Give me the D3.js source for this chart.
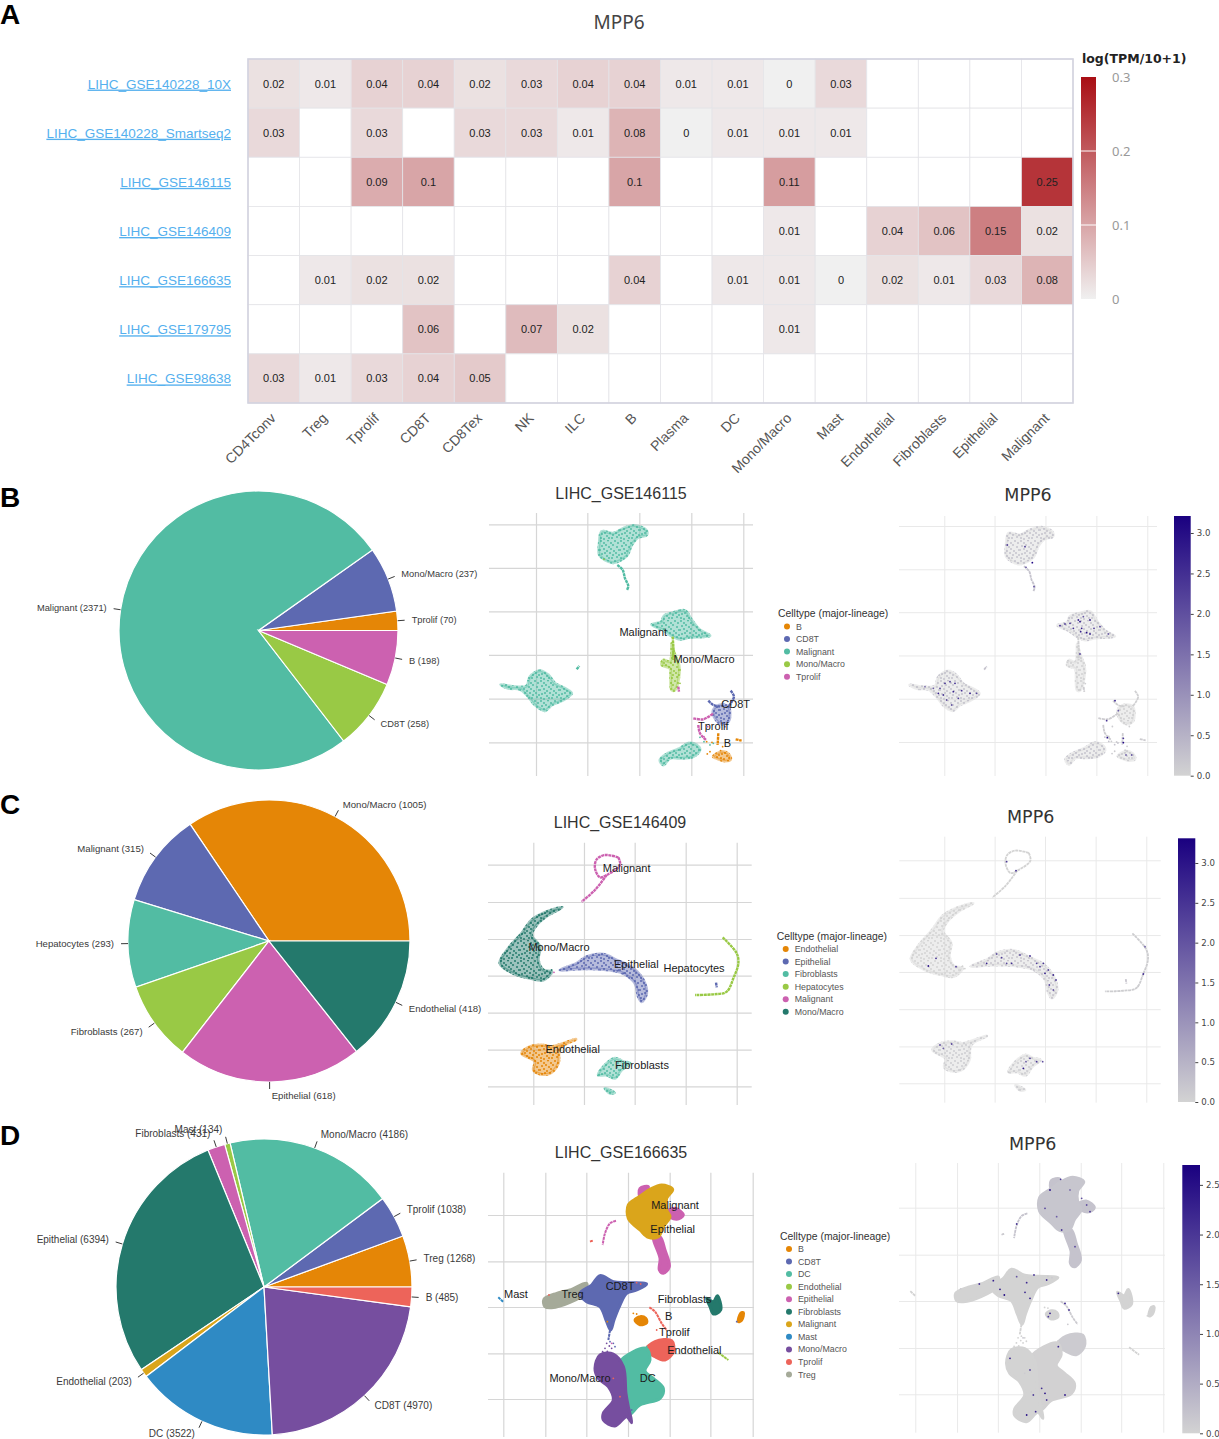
<!DOCTYPE html>
<html>
<head>
<meta charset="utf-8">
<style>
  body { margin: 0; background: #fff; }
  text { font-family: "Liberation Sans", Arial, sans-serif; }
</style>
</head>
<body>
<script src="https://d3js.org/d3.v7.min.js"></script>
<div id="fig"></div>
<script>
// ---------- panel A: heatmap ----------
var heatRows = ["LIHC_GSE140228_10X", "LIHC_GSE140228_Smartseq2", "LIHC_GSE146115", "LIHC_GSE146409", "LIHC_GSE166635", "LIHC_GSE179795", "LIHC_GSE98638"];
var heatCols = ["CD4Tconv", "Treg", "Tprolif", "CD8T", "CD8Tex", "NK", "ILC", "B", "Plasma", "DC", "Mono/Macro", "Mast", "Endothelial", "Fibroblasts", "Epithelial", "Malignant"];
var n = null;
var heatValues = [
  [0.02, 0.01, 0.04, 0.04, 0.02, 0.03, 0.04, 0.04, 0.01, 0.01, 0, 0.03, n, n, n, n],
  [0.03, n, 0.03, n, 0.03, 0.03, 0.01, 0.08, 0, 0.01, 0.01, 0.01, n, n, n, n],
  [n, n, 0.09, 0.1, n, n, n, 0.1, n, n, 0.11, n, n, n, n, 0.25],
  [n, n, n, n, n, n, n, n, n, n, 0.01, n, 0.04, 0.06, 0.15, 0.02],
  [n, 0.01, 0.02, 0.02, n, n, n, 0.04, n, 0.01, 0.01, 0, 0.02, 0.01, 0.03, 0.08],
  [n, n, n, 0.06, n, 0.07, 0.02, n, n, n, 0.01, n, n, n, n, n],
  [0.03, 0.01, 0.03, 0.04, 0.05, n, n, n, n, n, n, n, n, n, n, n]
];
var heatTicks = [0, 0.1, 0.2, 0.3];

// ---------- pies (listed anticlockwise from 3 o'clock) ----------
var pieNamesB = ["Tprolif", "Mono/Macro", "Malignant", "CD8T", "B"];
var pieCountsB = [70, 237, 2371, 258, 198];
var pieNamesC = ["Mono/Macro", "Malignant", "Hepatocytes", "Fibroblasts", "Epithelial", "Endothelial"];
var pieCountsC = [1005, 315, 293, 267, 618, 418];
var pieNamesD = ["Treg", "Tprolif", "Mono/Macro", "Mast", "Fibroblasts", "Epithelial", "Endothelial", "DC", "CD8T", "B"];
var pieCountsD = [1268, 1038, 4186, 134, 431, 6394, 203, 3522, 4970, 485];

// ---------- embeddings: outlines, in unlabelled embedding units ----------
var legendB = ["B", "CD8T", "Malignant", "Mono/Macro", "Tprolif"];
var gridXB = [168, 322, 478, 634, 790];
var gridYB = [133, 264, 394, 525, 656, 787];
var blobsB = [
  ["Malignant", [[365,155],[400,160],[430,145],[465,137],[498,150],[500,165],[475,172],[455,195],[440,228],[400,248],[375,240],[358,225],[358,190]]],
  ["Malignant", [[552,408],[580,398],[615,392],[635,420],[660,450],[690,467],[670,470],[630,472],[600,478],[575,468],[550,450],[515,434],[545,425]]],
  ["Malignant", [[62,614],[100,620],[140,618],[150,590],[180,572],[205,585],[225,610],[255,625],[275,640],[250,660],[215,675],[195,692],[165,675],[145,650],[120,628],[85,625]]],
  ["Malignant", [[540,840],[560,822],[600,805],[625,790],[650,795],[660,810],[640,830],[600,835],[570,835],[550,855]]],
  ["Mono/Macro", [[575,490],[583,520],[597,555],[598,580],[585,630],[575,630],[572,590],[570,565],[545,555],[550,540],[570,545],[575,520]]],
  ["CD8T", [[700,690],[720,675],[745,680],[750,700],[745,725],[725,732],[705,715]]],
  ["B", [[700,830],[725,815],[745,822],[752,838],[735,843],[712,836]]]
];
var strandsB = [
  ["Malignant", [[412,255],[428,270],[435,295],[445,318],[441,330]]],
  ["Malignant", [[290,568],[298,558]]],
  ["Mono/Macro", [[578,470],[580,500],[580,540]]],
  ["CD8T", [[685,662],[700,675],[720,680]]],
  ["CD8T", [[752,632],[762,650],[745,680]]],
  ["Tprolif", [[640,715],[670,718],[700,700]]],
  ["Tprolif", [[655,735],[660,760],[678,780]]],
  ["Tprolif", [[595,620],[597,635]]],
  ["B", [[715,760],[713,795]]],
  ["B", [[767,778],[785,782]]]
];
var straysB = [["Malignant",660,772],["Malignant",672,785],["Malignant",690,795],["Malignant",700,790],["B",680,785],["B",696,787],["B",690,815],["B",682,822],["B",728,800],["B",722,812],["Tprolif",683,740],["Tprolif",672,770],["CD8T",735,740],["Mono/Macro",600,610],["Mono/Macro",545,545],["Mono/Macro",372,238]];
var labelsB = [["Malignant",490,455],["Mono/Macro",672,538],["CD8T",767,671],["Tprolif",700,738],["B",742,790]];

var legendC = ["Endothelial", "Epithelial", "Fibroblasts", "Hepatocytes", "Malignant", "Mono/Macro"];
var gridXC = [160, 312, 464, 617, 770];
var gridYC = [194, 306, 417, 527, 638, 749, 859];
var blobsC = [
  ["Mono/Macro", [[247,322],[205,345],[170,375],[155,405],[180,440],[175,480],[190,510],[215,515],[190,540],[150,535],[100,520],[60,490],[85,445],[125,400],[155,360],[200,335]]],
  ["Epithelial", [[240,510],[290,490],[320,470],[370,463],[410,480],[460,505],[490,540],[500,580],[485,605],[475,590],[465,550],[430,520],[400,512],[350,507],[290,507]]],
  ["Endothelial", [[125,760],[150,740],[185,735],[215,740],[288,718],[240,745],[235,790],[210,820],[180,822],[160,810],[165,785]]],
  ["Fibroblasts", [[355,825],[380,790],[405,775],[430,785],[450,790],[425,810],[405,835],[380,825]]],
  ["Fibroblasts", [[375,865],[385,868],[403,878],[390,880]]]
];
var strandsC = [
  ["Malignant", [[415,172],[375,165],[350,178],[345,205],[360,232],[380,225],[420,195],[415,172]]],
  ["Malignant", [[380,225],[345,270],[305,305]]],
  ["Hepatocytes", [[728,412],[770,460],[775,490],[760,535],[740,575],[700,583],[645,585]]],
  ["Epithelial", [[708,548],[710,562]]]
];
var straysC = [["Malignant",222,517],["Epithelial",430,520],["Epithelial",412,512],["Fibroblasts",354,826],["Mono/Macro",215,510],["Hepatocytes",745,570]];
var labelsC = [["Malignant",440,204],["Mono/Macro",237,440],["Epithelial",469,491],["Hepatocytes",642,503],["Endothelial",278,746],["Fibroblasts",486,795]];

var legendD = ["B", "CD8T", "DC", "Endothelial", "Epithelial", "Fibroblasts", "Malignant", "Mast", "Mono/Macro", "Tprolif", "Treg"];
var gridXD = [70, 196, 319, 444, 569, 691, 818];
var gridYD = [255, 394, 531, 670, 807];
var blobsD = [
  ["Epithelial", [[480,175],[505,170],[495,190],[480,200]]],
  ["Epithelial", [[555,250],[585,235],[610,255],[590,268]]],
  ["Epithelial", [[520,320],[540,320],[555,360],[568,410],[550,430],[538,420],[540,385]]],
  ["Malignant", [[445,225],[470,205],[485,195],[510,178],[545,165],[578,178],[560,205],[560,240],[570,260],[550,290],[535,320],[505,322],[480,300],[445,265]]],
  ["Treg", [[192,508],[230,490],[270,480],[320,460],[312,492],[270,517],[215,533],[195,530]]],
  ["CD8T", [[300,490],[335,465],[360,437],[400,455],[440,458],[500,462],[470,480],[440,490],[418,530],[402,570],[392,600],[378,570],[360,530],[320,515]]],
  ["B", [[465,570],[480,560],[497,565],[500,578],[480,584]]],
  ["B", [[775,575],[782,550],[790,548],[785,570]]],
  ["Fibroblasts", [[680,505],[700,515],[712,497],[722,540],[700,552],[690,530]]],
  ["Tprolif", [[498,660],[525,635],[575,632],[580,665],[555,690],[525,680]]],
  ["DC", [[420,695],[498,655],[510,690],[495,722],[520,745],[550,775],[540,805],[480,825],[445,855],[420,800],[420,740]]],
  ["Mono/Macro", [[345,715],[360,675],[400,672],[430,710],[438,790],[445,830],[455,878],[440,860],[405,888],[370,870],[370,850],[400,810],[385,770],[355,745]]]
];
var strandsD = [
  ["Epithelial", [[408,272],[390,280],[375,310],[368,345]]],
  ["Tprolif", [[330,335],[338,332]]],
  ["Tprolif", [[508,532],[525,545],[545,580],[560,600]]],
  ["Mast", [[55,502],[70,516]]],
  ["Endothelial", [[715,668],[745,690]]],
  ["CD8T", [[392,590],[385,630]]]
];
var straysD = [["Mono/Macro",380,640],["Mono/Macro",388,648],["Mono/Macro",375,655],["Mono/Macro",395,655],["Mono/Macro",368,665],["Mono/Macro",382,664],["CD8T",400,640],["CD8T",405,650],["CD8T",390,635],["B",382,575],["B",460,550],["B",470,552],["Tprolif",335,333],["Tprolif",207,495],["Tprolif",482,462],["Tprolif",470,458],["Tprolif",400,745],["Tprolif",420,800],["Tprolif",530,600],["Epithelial",395,640],["Epithelial",540,425],["CD8T",455,840],["CD8T",770,575],["Fibroblasts",712,500],["DC",500,650]];
var labelsD = [["Malignant",585,224],["Epithelial",578,297],["CD8T",420,467],["Treg",278,491],["Mast",108,491],["Fibroblasts",614,507],["B",566,558],["Tprolif",583,606],["Endothelial",643,659],["DC",503,743],["Mono/Macro",300,744]];

// mean expression of a cluster (tints the grey of the feature plot)
var tintB = {Malignant: 0.25, "Mono/Macro": 0.05, CD8T: 0.05, B: 0.1, Tprolif: 0.1};
var tintC = {Epithelial: 0.2, "Mono/Macro": 0, Endothelial: 0.1, Fibroblasts: 0.1, Malignant: 0, Hepatocytes: 0.1};
var tintD = {Malignant: 0.17, Epithelial: 0.2, Tprolif: 0.1, DC: 0.02};

// strongly expressing cells: x, y, value
var hotB = [[427,248,3.1],[352,195,2.2],[405,200,2.4],[408,262,1.8],[432,320,2],[570,425,3],[565,420,2.6],[540,430,2.4],[510,437,2.6],[525,432,2.2],[550,445,2.5],[575,445,2.8],[590,458,3],[600,462,2.6],[612,445,2.3],[630,440,2.2],[600,420,2.9],[580,410,1.9],[572,455,2.7],[655,462,1.8],[570,522,2.2],[145,640,2.8],[150,625,2.2],[165,610,2.5],[180,605,2.3],[195,610,2.6],[190,635,2.7],[215,632,2.4],[240,640,2.8],[260,640,2.2],[205,655,2.3],[170,660,2],[185,675,1.9],[105,620,1.5],[130,625,1.8],[160,645,2.4],[675,662,2.8],[685,692,1.8],[650,722,2.4],[652,773,3],[700,788,3.1],[700,775,2.4],[725,825,1.9],[708,825,1.7]];
var hotC = [[350,185,2.4],[378,212,2.6],[115,498,3],[138,475,2.6],[198,500,2.4],[290,490,2.8],[335,473,2.4],[350,490,2.2],[365,490,2.6],[390,465,2.2],[420,468,2.7],[440,490,2.3],[450,500,2.4],[465,520,2.8],[475,510,2.2],[490,525,2.6],[498,540,2.4],[478,555,2.2],[490,570,1.9],[460,490,2.5],[320,462,2],[760,522,2.6],[765,440,1.8],[400,805,3],[420,775,2.3],[440,785,2.5],[458,785,2.1],[408,785,1.9],[185,732,2.2],[150,735,2.1],[160,745,1.8]];
var hotD = [[480,180,2.5],[512,148,2],[540,180,1.3],[575,205,1.7],[600,245,2],[590,225,1.7],[515,300,2],[465,235,1.8],[500,260,1.5],[555,350,1.8],[380,282,2],[268,462,2.1],[310,452,2.3],[330,478,2.4],[343,495,2.6],[405,487,2.2],[410,458,2.2],[432,435,2],[470,450,2.2],[420,505,2.3],[380,440,1.6],[685,490,2.3],[525,520,2.4],[537,540,2],[480,550,2.4],[475,560,2],[505,650,2.2],[360,685,2.3],[420,720,1.8],[465,790,2.5],[430,795,1.9],[455,775,2.1],[525,795,2.4],[410,855,2.5],[437,845,2.2],[470,810,2]];

var barTicksB = [0, 0.5, 1, 1.5, 2, 2.5, 3];
var barTicksC = [0, 0.5, 1, 1.5, 2, 2.5, 3];
var barTicksD = [0, 0.5, 1, 1.5, 2, 2.5];

var vivid = ["#E58606", "#5D69B1", "#52BCA3", "#99C945", "#CC61B0", "#24796C", "#DAA51B", "#2F8AC4", "#764E9F", "#ED645A", "#A5AA99"];
// uneven dot tile for the sparser embeddings
var stipple = [[1,1],[4,3],[8,0.5],[11,3],[15,1],[18,3],[2,6],[6,5],[9,7],[13,5],[17,7],[0,10],[4,9],[7,11],[11,9],[14,11],[19,10],[2,14],[5,13],[10,13],[13,15],[16,13],[1,18],[7,16],[9,18],[12,18],[17,17],[19,15],[4,19]];

var svg = d3.select("#fig").append("svg").attr("width", 1219).attr("height", 1439).style("display", "block");
var defs = svg.append("defs");

// panel letters
[["A", 24], ["B", 507], ["C", 814], ["D", 1145]].forEach(function(d) {
  svg.append("text").attr("x", 0).attr("y", d[1]).text(d[0]).style("font-size", "28px").style("font-weight", "bold").style("fill", "#000");
});

// ---- heatmap ----
var hx = d3.scaleBand().domain(heatCols).range([248, 1073]);
var hy = d3.scaleBand().domain(heatRows).range([59, 403]);
var heatColor = d3.scaleLinear().domain([0, 0.3]).range(["#f0f0f0", "#a90e14"]);

svg.append("text").attr("x", 619).attr("y", 29).attr("text-anchor", "middle").text("MPP6")
  .style("font-family", "'Noto Sans'").style("font-size", "19px").style("fill", "#444");

heatRows.forEach(function(r, i) {
  heatCols.forEach(function(c, j) {
    var v = heatValues[i][j];
    svg.append("rect").attr("x", hx(c)).attr("y", hy(r)).attr("width", hx.bandwidth()).attr("height", hy.bandwidth())
      .attr("fill", v === null ? "#fff" : heatColor(v)).attr("stroke", "#e4e4e8").attr("stroke-width", 0.8);
    if (v !== null) {
      svg.append("text").attr("x", hx(c) + hx.bandwidth() / 2).attr("y", hy(r) + hy.bandwidth() / 2 + 4)
        .attr("text-anchor", "middle").text(v).style("font-size", "11px").style("fill", "#222");
    }
  });
  svg.append("text").attr("x", 231).attr("y", hy(r) + hy.bandwidth() / 2 + 5).attr("text-anchor", "end").text(r)
    .style("font-size", "13.5px").style("fill", "#55b0ee").style("text-decoration", "underline");
});
svg.append("rect").attr("x", 248).attr("y", 59).attr("width", 825).attr("height", 344)
  .attr("fill", "none").attr("stroke", "#d3d3df").attr("stroke-width", 1.6);

heatCols.forEach(function(c) {
  svg.append("text").attr("text-anchor", "end")
    .attr("transform", "translate(" + (hx(c) + hx.bandwidth() / 2 + 3) + ",419) rotate(-45)")
    .text(c).style("font-size", "14px").style("fill", "#555");
});

// heat colourbar
var heatGrad = defs.append("linearGradient").attr("id", "heatGrad").attr("x1", 0).attr("x2", 0).attr("y1", 1).attr("y2", 0);
heatGrad.append("stop").attr("offset", 0).attr("stop-color", heatColor(0));
heatGrad.append("stop").attr("offset", 1).attr("stop-color", heatColor(0.3));
var heatBar = d3.scaleLinear().domain([0, 0.3]).range([299, 77]);
svg.append("rect").attr("x", 1081).attr("y", 77).attr("width", 15).attr("height", 222).attr("fill", "url(#heatGrad)");
heatTicks.forEach(function(t) {
  if (t == 0.1 || t == 0.2) svg.append("line").attr("x1", 1081).attr("x2", 1096).attr("y1", heatBar(t)).attr("y2", heatBar(t)).attr("stroke", "#fff");
  svg.append("text").attr("x", 1112).attr("y", heatBar(t) + 5).text(t).style("font-family", "'Noto Sans'").style("font-size", "13px").style("fill", "#999");
});
svg.append("text").attr("x", 1082).attr("y", 63).text("log(TPM/10+1)")
  .style("font-family", "'DejaVu Sans'").style("font-weight", "bold").style("font-size", "12.5px").style("fill", "#222");

// ---- pies ----
function drawPie(names, counts, cx, cy, r, fontSize) {
  var g = svg.append("g").attr("transform", "translate(" + cx + "," + cy + ")");
  var color = d3.scaleOrdinal().domain(names).range(vivid);
  var pie = d3.pie().sort(null).startAngle(Math.PI / 2).endAngle(Math.PI / 2 - 2 * Math.PI);
  var arcs = pie(counts);
  var arc = d3.arc().innerRadius(0).outerRadius(r);
  g.selectAll("path").data(arcs).enter().append("path")
    .attr("d", arc).attr("fill", function(d, i) { return color(names[i]); })
    .attr("stroke", "#fff").attr("stroke-width", 1.2);
  arcs.forEach(function(d, i) {
    var a = (d.startAngle + d.endAngle) / 2;
    var sx = Math.sin(a), sy = -Math.cos(a);
    var ex = sx * (r + 7), ey = sy * (r + 7);
    g.append("line").attr("x1", sx * r).attr("y1", sy * r).attr("x2", ex).attr("y2", ey).attr("stroke", "#222").attr("stroke-width", 0.9);
    g.append("text").attr("x", ex + (sx >= 0 ? 1 : -1) * (2 + 5 * Math.abs(sx))).attr("y", ey + sy * 7 + 3.4)
      .attr("text-anchor", sx >= 0 ? "start" : "end")
      .text(names[i] + " (" + counts[i] + ")").style("font-size", fontSize + "px").style("fill", "#3a3a3a");
  });
}
drawPie(pieNamesB, pieCountsB, 258.5, 630.5, 139.5, 9.3);
drawPie(pieNamesC, pieCountsC, 269, 941, 141, 9.6);
drawPie(pieNamesD, pieCountsD, 264, 1287, 148, 10);

// ---- embeddings ----
var blobLine = d3.line().curve(d3.curveCatmullRomClosed.alpha(0.5));
var strandLine = d3.line().curve(d3.curveCatmullRom.alpha(0.5));

function stipplePattern(id, color, bg) {
  var p = defs.append("pattern").attr("id", id).attr("patternUnits", "userSpaceOnUse").attr("width", 20).attr("height", 20);
  p.append("rect").attr("width", 20).attr("height", 20).attr("fill", bg);
  p.selectAll("circle").data(stipple).enter().append("circle")
    .attr("cx", function(d) { return d[0]; }).attr("cy", function(d) { return d[1]; }).attr("r", 1).attr("fill", color);
}

function drawGrid(x, y, gridX, gridY, box, stroke, width) {
  var gx = svg.append("g").attr("transform", "translate(0," + box.y1 + ")")
    .call(d3.axisBottom(x).tickValues(gridX).tickSize(box.y0 - box.y1).tickFormat(""));
  var gy = svg.append("g").attr("transform", "translate(" + box.x0 + ",0)")
    .call(d3.axisRight(y).tickValues(gridY).tickSize(box.x1 - box.x0).tickFormat(""));
  [gx, gy].forEach(function(a) {
    a.select(".domain").remove();
    a.selectAll("line").attr("stroke", stroke).attr("stroke-width", width);
  });
}

function drawShapes(x, y, blobs, strands, strays, fillFor, strokeFor, strandW) {
  var g = svg.append("g");
  blobLine.x(function(d) { return x(d[0]); }).y(function(d) { return y(d[1]); });
  strandLine.x(function(d) { return x(d[0]); }).y(function(d) { return y(d[1]); });
  blobs.forEach(function(b) {
    g.append("path").attr("d", blobLine(b[1])).attr("fill", fillFor(b[0]))
      .attr("stroke", fillFor(b[0])).attr("stroke-width", 3).attr("stroke-linejoin", "round");
  });
  strands.forEach(function(s) {
    g.append("path").attr("d", strandLine(s[1])).attr("fill", "none").attr("stroke", strokeFor(s[0]))
      .attr("stroke-width", strandW).attr("stroke-dasharray", "3 0.6");
  });
  g.selectAll("circle").data(strays).enter().append("circle")
    .attr("cx", function(d) { return x(d[1]); }).attr("cy", function(d) { return y(d[2]); })
    .attr("r", 0.9).attr("fill", function(d) { return strokeFor(d[0]); });
}

function drawUmap(p) {
  // coloured embedding, axis units are the picture's own
  var x = d3.scaleLinear().domain([p.gridX[0], p.gridX[p.gridX.length - 1]]).range(p.left.gx);
  var y = d3.scaleLinear().domain([p.gridY[0], p.gridY[p.gridY.length - 1]]).range(p.left.gy);
  var color = d3.scaleOrdinal().domain(p.legend).range(vivid);
  drawGrid(x, y, p.gridX, p.gridY, p.left.box, "#d6d6d6", 1.2);
  svg.append("text").attr("x", p.left.title[0]).attr("y", p.left.title[1]).attr("text-anchor", "middle").text(p.title)
    .style("font-size", "16px").style("fill", "#333");

  p.legend.forEach(function(name, i) {
    if (p.dense) return;
    stipplePattern("st" + p.id + i, color(name), d3.color(color(name)).copy({opacity: 0.45}).formatRgb());
  });
  drawShapes(x, y, p.blobs, p.strands, p.strays, function(name) {
    return p.dense ? color(name) : "url(#st" + p.id + p.legend.indexOf(name) + ")";
  }, color, p.dense ? 2 : 2.4);

  p.labels.forEach(function(l) {
    svg.append("text").attr("x", x(l[1])).attr("y", y(l[2]) + 4).attr("text-anchor", "middle").text(l[0])
      .style("font-size", "11px").style("fill", "#1a1a1a");
  });

  // legend
  svg.append("text").attr("x", p.leg.x).attr("y", p.leg.y + 3.5).text("Celltype (major-lineage)")
    .style("font-size", "10.4px").style("fill", "#333");
  p.legend.forEach(function(name, i) {
    var yy = p.leg.y + 13 + i * 12.55;
    svg.append("circle").attr("cx", p.leg.x + 9).attr("cy", yy).attr("r", 3).attr("fill", color(name));
    svg.append("text").attr("x", p.leg.x + 18).attr("y", yy + 3).text(name).style("font-size", "8.8px").style("fill", "#555");
  });

  // feature plot: same embedding, greys tinted by expression
  var fx = d3.scaleLinear().domain([p.gridX[0], p.gridX[p.gridX.length - 1]]).range(p.right.gx);
  var fy = d3.scaleLinear().domain([p.gridY[0], p.gridY[p.gridY.length - 1]]).range(p.right.gy);
  var expr = d3.scaleLinear().domain([0, p.barMax]).range(["#d3d3d3", "#1a0080"]);
  drawGrid(fx, fy, p.gridX, p.gridY, p.right.box, "#e9e9e9", 1);
  svg.append("text").attr("x", p.right.title[0]).attr("y", p.right.title[1]).attr("text-anchor", "middle").text("MPP6")
    .style("font-family", "'DejaVu Sans'").style("font-size", "17.5px").style("fill", "#333");

  p.legend.forEach(function(name, i) {
    if (p.dense) return;
    stipplePattern("fe" + p.id + i, expr(p.tint[name] || 0), "rgba(211,211,211,0.4)");
  });
  drawShapes(fx, fy, p.blobs, p.strands, p.strays, function(name) {
    return p.dense ? expr(p.tint[name] || 0) : "url(#fe" + p.id + p.legend.indexOf(name) + ")";
  }, function(name) { return expr(p.tint[name] || 0); }, 1.8);

  // hot cells were read in feature plot crop units
  var hcx = d3.scaleLinear().domain([0, 987]).range([890, 1219]);
  var hcy = d3.scaleLinear().domain([0, 930]).range([p.right.cropY, p.right.cropY + 310]);
  svg.append("g").selectAll("circle").data(p.hot).enter().append("circle")
    .attr("cx", function(d) { return hcx(d[0]); }).attr("cy", function(d) { return hcy(d[1]); })
    .attr("r", 0.9).attr("fill", function(d) { return expr(d[2]); });

  // colourbar
  var gid = "bar" + p.id;
  var grad = defs.append("linearGradient").attr("id", gid).attr("x1", 0).attr("x2", 0).attr("y1", 1).attr("y2", 0);
  grad.append("stop").attr("offset", 0).attr("stop-color", expr(0));
  grad.append("stop").attr("offset", 1).attr("stop-color", expr(p.barMax));
  var by = d3.scaleLinear().domain([0, p.barMax]).range([p.bar.y1, p.bar.y0]);
  svg.append("rect").attr("x", p.bar.x0).attr("y", p.bar.y0).attr("width", p.bar.x1 - p.bar.x0).attr("height", p.bar.y1 - p.bar.y0)
    .attr("fill", "url(#" + gid + ")");
  var ax = svg.append("g").attr("transform", "translate(" + p.bar.x1 + ",0)")
    .call(d3.axisRight(by).tickValues(p.barTicks).tickSize(3).tickFormat(d3.format(".1f")));
  ax.select(".domain").remove();
  ax.selectAll("text").style("font-family", "'DejaVu Sans'").style("font-size", "8.6px").style("fill", "#444");
  ax.selectAll("line").attr("stroke", "#444");
}

drawUmap({
  id: "B", title: "LIHC_GSE146115", legend: legendB, gridX: gridXB, gridY: gridYB, blobs: blobsB, strands: strandsB, strays: straysB,
  labels: labelsB, tint: tintB, hot: hotB, barMax: 3.21, barTicks: barTicksB, dense: false,
  left: {gx: [536, 743.3], gy: [524.3, 742.3], box: {x0: 489, x1: 753, y0: 513, y1: 776}, title: [621, 499]},
  right: {gx: [944.3, 1147.3], gy: [526, 742], box: {x0: 899, x1: 1157, y0: 516, y1: 776}, title: [1028, 501], cropY: 480},
  leg: {x: 778, y: 613.5}, bar: {x0: 1174, x1: 1190.7, y0: 516, y1: 775.7}
});
drawUmap({
  id: "C", title: "LIHC_GSE146409", legend: legendC, gridX: gridXC, gridY: gridYC, blobs: blobsC, strands: strandsC, strays: straysC,
  labels: labelsC, tint: tintC, hot: hotC, barMax: 3.31, barTicks: barTicksC, dense: false,
  left: {gx: [533.3, 736.7], gy: [864.7, 1086.3], box: {x0: 488, x1: 751.7, y0: 842.7, y1: 1105}, title: [620, 828]},
  right: {gx: [944.3, 1146.3], gy: [860.3, 1083.3], box: {x0: 899.3, x1: 1160.7, y0: 836.7, y1: 1102.7}, title: [1030.7, 823], cropY: 800},
  leg: {x: 776.7, y: 936}, bar: {x0: 1178, x1: 1195.3, y0: 838.3, y1: 1102}
});
drawUmap({
  id: "D", title: "LIHC_GSE166635", legend: legendD, gridX: gridXD, gridY: gridYD, blobs: blobsD, strands: strandsD, strays: straysD,
  labels: labelsD, tint: tintD, hot: hotD, barMax: 2.7, barTicks: barTicksD, dense: true,
  left: {gx: [503.3, 752.7], gy: [1215, 1399], box: {x0: 488, x1: 754, y0: 1172.7, y1: 1437}, title: [621, 1158]},
  right: {gx: [915.3, 1163.3], gy: [1207.7, 1394.3], box: {x0: 899, x1: 1165, y0: 1163, y1: 1432.7}, title: [1032.7, 1150], cropY: 1130},
  leg: {x: 780, y: 1236}, bar: {x0: 1182.3, x1: 1200, y0: 1165, y1: 1433.3}
});
</script>
</body>
</html>
